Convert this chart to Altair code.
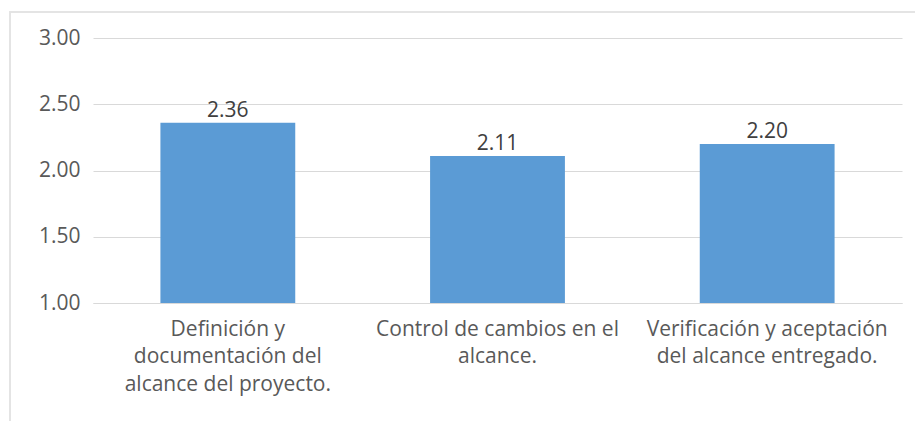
import altair as alt
import pandas as pd

categories = [
    "Definición y|documentación del|alcance del proyecto.",
    "Control de cambios en el|alcance.",
    "Verificación y aceptación|del alcance entregado.",
]
values = [2.36, 2.11, 2.20]
y_ticks = [1.0, 1.5, 2.0, 2.5, 3.0]
y_base = 1.0

df = pd.DataFrame({"cat": categories, "val": values})

FONT = "Open Sans"
FS = 21
W, H = 809, 265

frame = alt.Chart(df).mark_rect(
    fillOpacity=0, stroke="#e3e3e3", strokeWidth=1.5
).encode(
    x=alt.value(-83), x2=alt.value(W + 40), y=alt.value(-26), y2=alt.value(H + 140)
)

base = alt.Chart(df)

bars = base.mark_bar(color="#5b9bd5").encode(
    x=alt.X(
        "cat:N",
        sort=categories,
        scale=alt.Scale(paddingInner=0.5, paddingOuter=0.25),
        axis=alt.Axis(
            title=None,
            labelAngle=0,
            labelExpr="split(datum.label, '|')",
            labelFont=FONT,
            labelFontSize=FS,
            labelColor="#595959",
            labelLineHeight=27.5,
            labelPadding=15,
            labelBaseline="top",
            ticks=False,
            domainColor="#d9d9d9",
            domainWidth=1.2,
            labelLimit=400,
        ),
    ),
    y=alt.Y(
        "val:Q",
        scale=alt.Scale(domain=[1, 3], zero=False, nice=False),
        axis=alt.Axis(
            title=None,
            values=y_ticks,
            format=".2f",
            labelFont=FONT,
            labelFontSize=FS,
            labelColor="#595959",
            labelPadding=13,
            ticks=False,
            domain=False,
            gridColor="#d9d9d9",
            gridWidth=1.2,
        ),
    ),
    y2=alt.datum(y_base),
)

labels = base.mark_text(
    baseline="bottom", dy=-2, font=FONT, fontSize=FS, color="#404040"
).encode(
    x=alt.X("cat:N", sort=categories),
    y="val:Q",
    text=alt.Text("val:Q", format=".2f"),
)

chart = (
    alt.layer(bars, labels, frame)
    .properties(
        width=W,
        height=H,
        autosize=alt.AutoSizeParams(type="none"),
        padding={"left": 93, "top": 38, "right": 13, "bottom": 118},
        background="white",
    )
    .configure_view(stroke=None)
)

chart.save("out.html", embed_options={"renderer": "svg", "actions": False})
